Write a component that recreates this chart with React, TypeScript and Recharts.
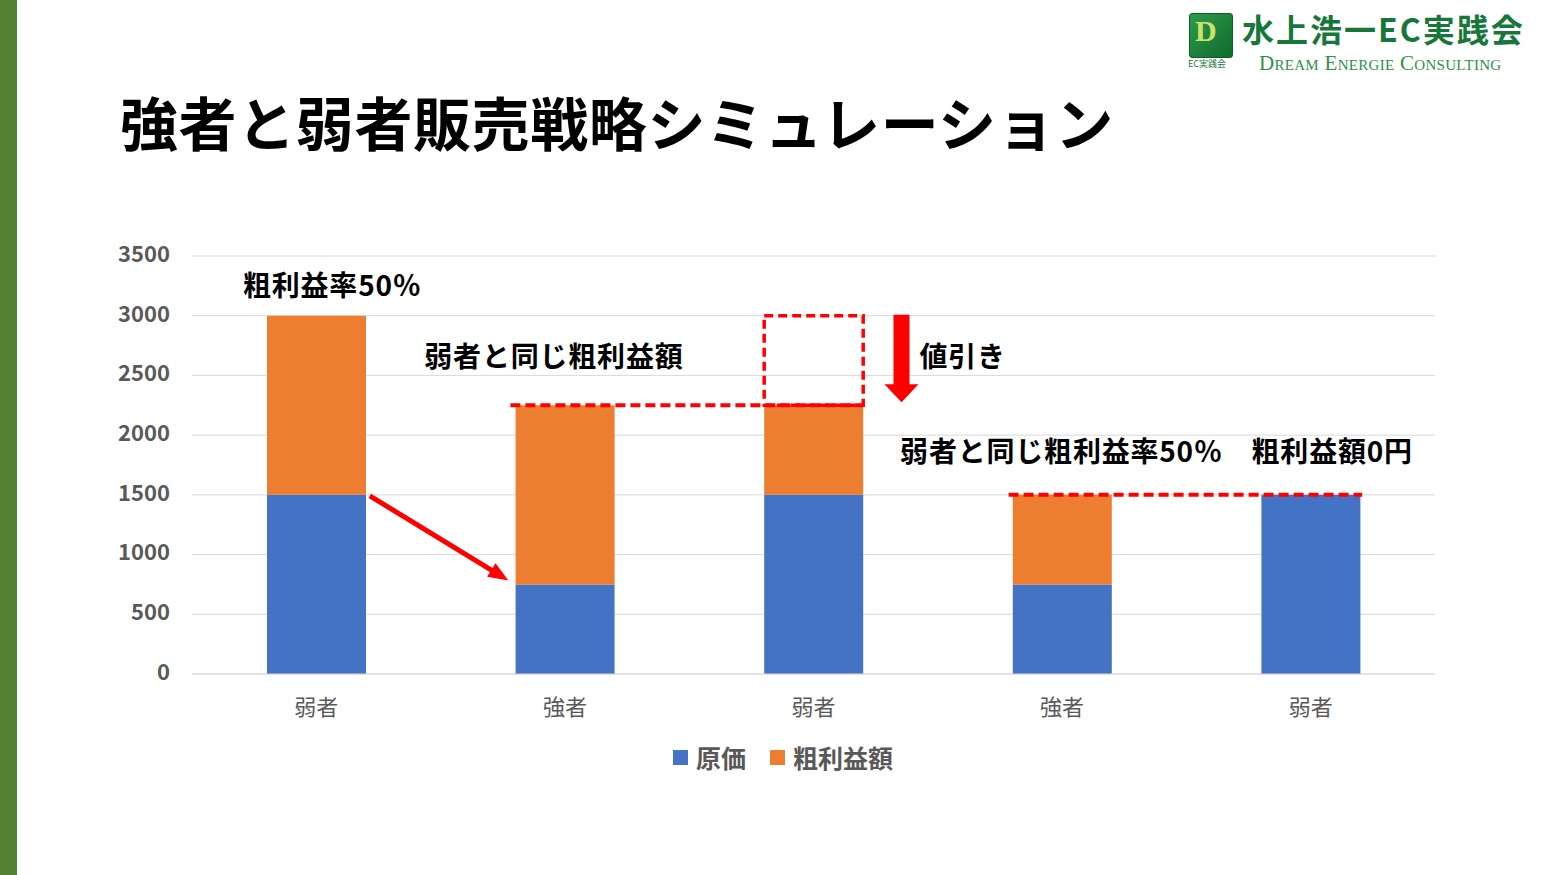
import React from "react";
import { BarChart, Bar, XAxis, YAxis, CartesianGrid, ReferenceLine, ReferenceDot } from "recharts";

const categories = ["弱者", "強者", "弱者", "強者", "弱者"];
const costValues = [1500, 750, 1500, 750, 1500];
const grossProfitValues = [1500, 1500, 750, 750, 0];
const discountValues = [0, 0, 750, 0, 0];
const yTicks = [0, 500, 1000, 1500, 2000, 2500, 3000, 3500];

const seriesNames = { cost: "原価", profit: "粗利益額" };

const data = categories.map((name, i) => ({
  idx: i,
  name,
  cost: costValues[i],
  profit: grossProfitValues[i],
  discount: discountValues[i],
}));

const BLUE = "#4472C4";
const ORANGE = "#ED7D31";
const RED = "#FF0000";
const BAR = 99;
const HALF = BAR / 2;
const FONT = '"Noto Sans CJK JP", "Noto Sans", sans-serif';

const dashedLine = (padL: number, padR: number) => (p: any) => (
  <line
    x1={p.x1 - HALF - padL}
    y1={p.y1}
    x2={p.x2 + HALF + padR}
    y2={p.y2}
    stroke={RED}
    strokeWidth={4}
    strokeDasharray="10 5"
  />
);

const diagonalArrow = (p: any) => {
  const x1 = p.x1 + HALF + 4;
  const y1 = p.y1 + 1;
  const x2 = p.x2 - HALF - 7;
  const y2 = p.y2 - 4;
  const len = Math.hypot(x2 - x1, y2 - y1);
  const ux = (x2 - x1) / len;
  const uy = (y2 - y1) / len;
  const head = 20;
  const w = 8;
  const bx = x2 - ux * head;
  const by = y2 - uy * head;
  return (
    <g>
      <line x1={x1} y1={y1} x2={bx + ux * 2} y2={by + uy * 2} stroke={RED} strokeWidth={5} />
      <polygon
        points={`${x2},${y2} ${bx - uy * w},${by + ux * w} ${bx + uy * w},${by - ux * w}`}
        fill={RED}
      />
    </g>
  );
};

const downArrow = (p: any) => {
  const cx = p.x1 + 88;
  const top = p.y1 - 1;
  const tip = p.y2 - 3;
  const headH = 18;
  return (
    <g>
      <rect x={cx - 8} y={top} width={16} height={tip - headH - top + 1} fill={RED} />
      <polygon points={`${cx - 17},${tip - headH} ${cx + 17},${tip - headH} ${cx},${tip}`} fill={RED} />
    </g>
  );
};

const note = (text: string, dx: number, anchor: "start" | "middle") => (p: any) => (
  <text
    x={p.cx + dx}
    y={p.cy}
    textAnchor={anchor}
    dominantBaseline="central"
    fontFamily={FONT}
    fontWeight="bold"
    fontSize={28}
    letterSpacing={0.8}
    fill="#000"
  >
    {text}
  </text>
);

const Logo = () => (
  <div style={{ position: "absolute", left: 1186, top: 10, width: 360, height: 64 }}>
    <div
      style={{
        position: "absolute",
        left: 3,
        top: 3,
        width: 42,
        height: 43,
        borderRadius: 3,
        background: "linear-gradient(135deg, #2f9a4a, #0f6b2c)",
        border: "1px solid #0d5e26",
      }}
    >
      <span
        style={{
          position: "absolute",
          left: 5,
          top: 0,
          fontFamily: '"Liberation Serif", serif',
          fontWeight: "bold",
          fontSize: 30,
          color: "#c9e36b",
        }}
      >
        D
      </span>
    </div>
    <div
      style={{
        position: "absolute",
        left: 2,
        top: 48,
        fontFamily: FONT,
        fontSize: 9,
        lineHeight: "12px",
        color: "#1b7a3a",
        whiteSpace: "nowrap",
      }}
    >
      EC実践会
    </div>
    <div
      style={{
        position: "absolute",
        left: 56,
        top: 1,
        fontFamily: FONT,
        fontWeight: "bold",
        fontSize: 32,
        lineHeight: "34px",
        color: "#17773a",
        whiteSpace: "nowrap",
        letterSpacing: 2,
      }}
    >
      水上浩一EC実践会
    </div>
    <div
      style={{
        position: "absolute",
        left: 73,
        top: 43,
        fontFamily: '"Liberation Serif", serif',
        fontVariant: "small-caps",
        fontSize: 21,
        lineHeight: "21px",
        letterSpacing: 0.3,
        color: "#2f8f4c",
        whiteSpace: "nowrap",
      }}
    >
      Dream Energie Consulting
    </div>
  </div>
);

const App: React.FC = () => {
  return (
    <div
      style={{
        position: "absolute",
        left: 0,
        top: 0,
        width: 1556,
        height: 875,
        background: "#fff",
        overflow: "hidden",
        fontFamily: FONT,
      }}
    >
      <div style={{ position: "absolute", left: 0, top: 0, width: 17, height: 875, background: "#548235" }} />
      <Logo />
      <div
        style={{
          position: "absolute",
          left: 120,
          top: 88,
          fontSize: 58,
          lineHeight: "66px",
          fontWeight: "bold",
          letterSpacing: 0.6,
          color: "#000",
          whiteSpace: "nowrap",
        }}
      >
        強者と弱者販売戦略シミュレーション
      </div>

      <div style={{ position: "absolute", left: 0, top: 0 }}>
        <BarChart
          width={1556}
          height={740}
          data={data}
          margin={{ top: 256, right: 121, left: 122, bottom: 6 }}
          barSize={BAR}
        >
          <CartesianGrid vertical={false} stroke="#D9D9D9" strokeWidth={1} />
          <XAxis
            dataKey="idx"
            type="category"
            height={60}
            tickFormatter={(i: number) => categories[i]}
            tickLine={false}
            tickSize={0}
            tickMargin={25}
            axisLine={{ stroke: "#D9D9D9" }}
            tick={{ fontSize: 22, fill: "#595959", fontFamily: FONT }}
          />
          <YAxis
            width={70}
            domain={[0, 3500]}
            ticks={yTicks}
            tickLine={false}
            tickSize={0}
            tickMargin={22}
            axisLine={false}
            tick={{ fontSize: 22, fill: "#595959", fontFamily: FONT, fontWeight: "bold", dy: -2 }}
          />
          <Bar dataKey="cost" name={seriesNames.cost} stackId="a" fill={BLUE} isAnimationActive={false} />
          <Bar dataKey="profit" name={seriesNames.profit} stackId="a" fill={ORANGE} isAnimationActive={false} />
          <Bar
            dataKey="discount"
            stackId="a"
            fill="none"
            stroke={RED}
            strokeWidth={3.5}
            strokeDasharray="9 5"
            legendType="none"
            isAnimationActive={false}
          />
          <ReferenceLine
            segment={[{ x: 1, y: 2250 }, { x: 2, y: 2250 }]}
            shape={dashedLine(5, 0)}
          />
          <ReferenceLine
            segment={[{ x: 3, y: 1500 }, { x: 4, y: 1500 }]}
            shape={dashedLine(4, 2)}
          />
          <ReferenceLine segment={[{ x: 0, y: 1500 }, { x: 1, y: 750 }]} shape={diagonalArrow} />
          <ReferenceLine segment={[{ x: 2, y: 3000 }, { x: 2, y: 2250 }]} shape={downArrow} />
          <ReferenceDot x={0} y={3265} r={1} shape={note("粗利益率50％", 16, "middle")} />
          <ReferenceDot x={1} y={2667} r={1} shape={note("弱者と同じ粗利益額", -11, "middle")} />
          <ReferenceDot x={2} y={2667} r={1} shape={note("値引き", 106, "start")} />
          <ReferenceDot
            x={3}
            y={1875}
            r={1}
            shape={note("弱者と同じ粗利益率50％　粗利益額0円", -162, "start")}
          />
        </BarChart>
      </div>

      <div
        style={{
          position: "absolute",
          left: 673,
          top: 739,
          display: "flex",
          alignItems: "center",
          fontSize: 25,
          fontWeight: "bold",
          color: "#595959",
          whiteSpace: "nowrap",
        }}
      >
        <span style={{ width: 15, height: 15, background: BLUE, display: "inline-block", marginRight: 8 }} />
        <span style={{ marginRight: 24 }}>{seriesNames.cost}</span>
        <span style={{ width: 15, height: 15, background: ORANGE, display: "inline-block", marginRight: 8 }} />
        <span>{seriesNames.profit}</span>
      </div>
    </div>
  );
};

export default App;
